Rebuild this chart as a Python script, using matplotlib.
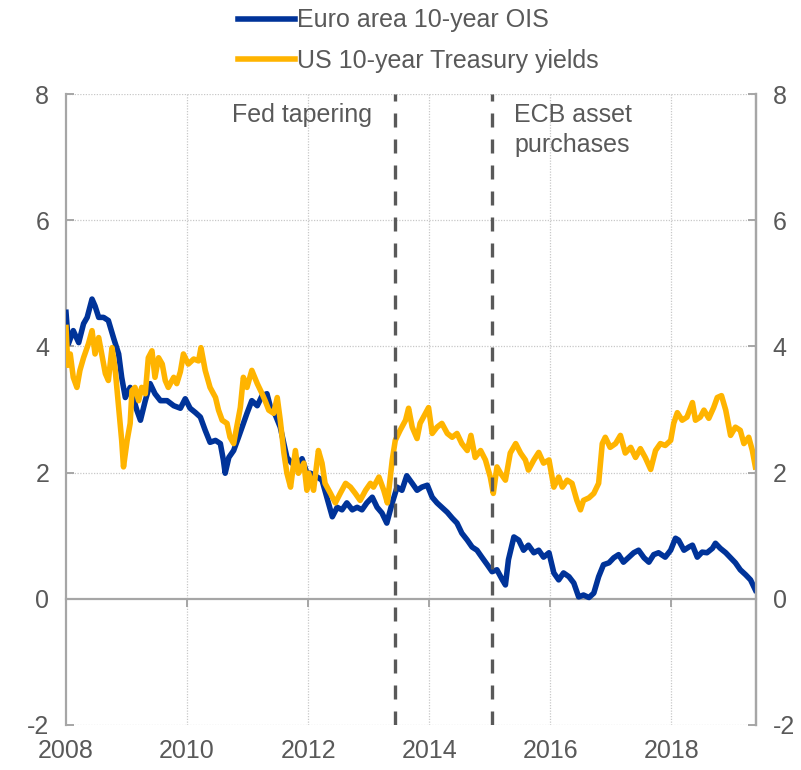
import matplotlib
matplotlib.use("Agg")
import matplotlib.pyplot as plt

# ---- data (decimal years, percent) -------------------------------------
euro_years = [
    2008.00, 2008.04, 2008.12, 2008.21, 2008.29, 2008.35, 2008.43, 2008.48, 2008.54, 2008.62,
    2008.70, 2008.79, 2008.87, 2008.92, 2008.98, 2009.06, 2009.17, 2009.23, 2009.31, 2009.39,
    2009.47, 2009.56, 2009.67, 2009.78, 2009.89, 2009.97, 2010.05, 2010.14, 2010.22, 2010.30,
    2010.38, 2010.47, 2010.55, 2010.60, 2010.63, 2010.69, 2010.77, 2010.85, 2010.93, 2010.99,
    2011.07, 2011.16, 2011.24, 2011.32, 2011.38, 2011.46, 2011.54, 2011.60, 2011.65, 2011.73,
    2011.82, 2011.90, 2011.98, 2012.04, 2012.15, 2012.23, 2012.31, 2012.40, 2012.48, 2012.56,
    2012.64, 2012.73, 2012.81, 2012.89, 2012.97, 2013.06, 2013.14, 2013.22, 2013.30, 2013.39,
    2013.47, 2013.55, 2013.63, 2013.72, 2013.80, 2013.88, 2013.97, 2014.05, 2014.13, 2014.21,
    2014.30, 2014.38, 2014.46, 2014.54, 2014.63, 2014.71, 2014.79, 2014.87, 2014.96, 2015.04,
    2015.12, 2015.21, 2015.26, 2015.31, 2015.40, 2015.48, 2015.56, 2015.64, 2015.73, 2015.81,
    2015.89, 2015.98, 2016.06, 2016.14, 2016.22, 2016.31, 2016.39, 2016.47, 2016.55, 2016.64,
    2016.72, 2016.80, 2016.88, 2016.97, 2017.05, 2017.13, 2017.21, 2017.30, 2017.38, 2017.46,
    2017.55, 2017.63, 2017.71, 2017.79, 2017.90, 2017.99, 2018.07, 2018.12, 2018.21, 2018.29,
    2018.35, 2018.43, 2018.51, 2018.59, 2018.68, 2018.73, 2018.81, 2018.90, 2018.98, 2019.06,
    2019.14, 2019.23, 2019.31, 2019.39,
]
euro_ois = [
    4.54, 4.04, 4.25, 4.06, 4.36, 4.46, 4.75, 4.64, 4.46, 4.46,
    4.41, 4.12, 3.88, 3.51, 3.19, 3.35, 2.99, 2.83, 3.14, 3.41,
    3.25, 3.14, 3.14, 3.06, 3.02, 3.17, 3.02, 2.95, 2.88, 2.67,
    2.48, 2.51, 2.46, 2.20, 1.99, 2.24, 2.35, 2.56, 2.78, 2.94,
    3.14, 3.06, 3.22, 3.25, 3.03, 2.91, 2.72, 2.46, 2.24, 2.15,
    2.12, 2.22, 1.99, 1.99, 1.93, 1.88, 1.61, 1.30, 1.45, 1.41,
    1.52, 1.41, 1.45, 1.41, 1.52, 1.61, 1.45, 1.36, 1.20, 1.52,
    1.77, 1.72, 1.95, 1.83, 1.72, 1.77, 1.80, 1.61, 1.52, 1.45,
    1.37, 1.28, 1.20, 1.04, 0.93, 0.82, 0.77, 0.66, 0.54, 0.43,
    0.46, 0.30, 0.22, 0.62, 0.98, 0.93, 0.77, 0.85, 0.73, 0.77,
    0.66, 0.73, 0.41, 0.30, 0.41, 0.35, 0.25, 0.03, 0.06, 0.02,
    0.09, 0.35, 0.54, 0.57, 0.65, 0.70, 0.58, 0.66, 0.73, 0.77,
    0.65, 0.58, 0.70, 0.73, 0.66, 0.77, 0.96, 0.93, 0.77, 0.82,
    0.85, 0.66, 0.74, 0.73, 0.80, 0.88, 0.80, 0.73, 0.65, 0.57,
    0.46, 0.38, 0.30, 0.14,
]

us_years = [
    2008.00, 2008.03, 2008.07, 2008.12, 2008.18, 2008.23, 2008.29, 2008.37, 2008.43, 2008.48,
    2008.54, 2008.59, 2008.65, 2008.70, 2008.76, 2008.81, 2008.87, 2008.92, 2008.95, 2009.01,
    2009.06, 2009.09, 2009.14, 2009.20, 2009.25, 2009.31, 2009.36, 2009.42, 2009.47, 2009.53,
    2009.59, 2009.64, 2009.69, 2009.78, 2009.83, 2009.89, 2009.94, 2010.02, 2010.11, 2010.19,
    2010.23, 2010.30, 2010.38, 2010.47, 2010.52, 2010.58, 2010.66, 2010.71, 2010.77, 2010.82,
    2010.88, 2010.93, 2010.99, 2011.07, 2011.16, 2011.24, 2011.29, 2011.35, 2011.43, 2011.49,
    2011.54, 2011.60, 2011.65, 2011.71, 2011.79, 2011.84, 2011.93, 2011.98, 2012.01, 2012.09,
    2012.17, 2012.23, 2012.28, 2012.37, 2012.45, 2012.53, 2012.62, 2012.70, 2012.78, 2012.86,
    2012.95, 2013.03, 2013.08, 2013.17, 2013.25, 2013.31, 2013.39, 2013.44, 2013.52, 2013.61,
    2013.66, 2013.72, 2013.80, 2013.85, 2013.94, 2013.99, 2014.05, 2014.13, 2014.21, 2014.30,
    2014.38, 2014.46, 2014.54, 2014.63, 2014.69, 2014.76, 2014.85, 2014.93, 2015.01, 2015.06,
    2015.12, 2015.18, 2015.26, 2015.34, 2015.43, 2015.51, 2015.59, 2015.64, 2015.73, 2015.81,
    2015.89, 2015.98, 2016.06, 2016.14, 2016.20, 2016.28, 2016.36, 2016.44, 2016.50, 2016.55,
    2016.64, 2016.72, 2016.80, 2016.86, 2016.91, 2016.99, 2017.08, 2017.16, 2017.24, 2017.33,
    2017.41, 2017.49, 2017.57, 2017.66, 2017.74, 2017.82, 2017.90, 2017.99, 2018.04, 2018.10,
    2018.18, 2018.26, 2018.35, 2018.40, 2018.48, 2018.54, 2018.62, 2018.70, 2018.76, 2018.83,
    2018.90, 2018.98, 2019.06, 2019.14, 2019.20, 2019.28, 2019.34, 2019.39,
]
us_yield = [
    4.30, 3.70, 3.88, 3.51, 3.35, 3.62, 3.82, 4.04, 4.25, 3.88,
    4.14, 3.88, 3.57, 3.46, 3.98, 3.66, 3.03, 2.51, 2.09, 2.51,
    2.78, 3.30, 3.35, 3.14, 3.35, 3.25, 3.82, 3.93, 3.51, 3.82,
    3.72, 3.46, 3.35, 3.51, 3.41, 3.60, 3.88, 3.72, 3.80, 3.77,
    3.98, 3.62, 3.35, 3.19, 2.99, 2.83, 2.78, 2.56, 2.46, 2.72,
    3.03, 3.51, 3.35, 3.62, 3.41, 3.25, 3.14, 2.99, 2.94, 3.19,
    2.83, 2.31, 1.99, 1.77, 2.35, 1.99, 2.15, 1.72, 1.99, 1.72,
    2.35, 2.15, 1.83, 1.67, 1.52, 1.67, 1.83, 1.77, 1.67, 1.56,
    1.72, 1.83, 1.77, 1.93, 1.72, 1.52, 2.20, 2.51, 2.67, 2.83,
    3.02, 2.72, 2.54, 2.78, 2.94, 3.03, 2.62, 2.72, 2.78, 2.62,
    2.56, 2.62, 2.46, 2.35, 2.59, 2.24, 2.35, 2.20, 1.93, 1.67,
    2.09, 1.99, 1.88, 2.31, 2.46, 2.31, 2.20, 2.04, 2.20, 2.32,
    2.15, 2.20, 1.77, 1.93, 1.77, 1.88, 1.83, 1.56, 1.41, 1.56,
    1.60, 1.67, 1.83, 2.46, 2.56, 2.40, 2.46, 2.59, 2.31, 2.40,
    2.24, 2.38, 2.24, 2.05, 2.35, 2.46, 2.43, 2.51, 2.78, 2.95,
    2.83, 2.88, 3.11, 2.83, 2.88, 2.99, 2.86, 3.03, 3.19, 3.22,
    2.99, 2.59, 2.72, 2.67, 2.46, 2.56, 2.35, 2.09,
]

event_years = [2013.44, 2015.03]
event_labels = ["Fed tapering", "ECB asset\npurchases"]
year_ticks = [2008, 2010, 2012, 2014, 2016, 2018]
value_ticks = [-2, 0, 2, 4, 6, 8]

BLUE = "#003399"
YELLOW = "#FFB400"
TXT = "#595959"
AXIS = "#A6A6A6"
GRID = "#C8C8C8"

plt.rcParams["font.family"] = ["Liberation Sans", "DejaVu Sans"]
plt.rcParams["font.size"] = 18
plt.rcParams["axes.unicode_minus"] = False

fig = plt.figure(figsize=(8.01, 7.70), dpi=100)
ax = fig.add_axes([66 / 801, 1 - 725 / 770, 690 / 801, 631 / 770])

ax.plot(euro_years, euro_ois, color=BLUE, lw=4.0, solid_joinstyle="round",
        label="Euro area 10-year OIS", zorder=3)
ax.plot(us_years, us_yield, color=YELLOW, lw=4.0, solid_joinstyle="round",
        label="US 10-year Treasury yields", zorder=3.1)

for yr in event_years:
    ax.axvline(yr, color="#595959", lw=2.4, linestyle=(0, (4.2, 3.6)), zorder=4)

ax.text(event_years[0] - 0.38, 7.86, event_labels[0], ha="right", va="top", color=TXT)
ax.text(event_years[1] + 0.38, 7.86, event_labels[1], ha="left", va="top", color=TXT,
        linespacing=1.3)

ax.set_xlim(2008, 2019.40)
ax.set_ylim(-2, 8)
ax.set_xticks(year_ticks)
ax.set_yticks(value_ticks)

# dotted grid (zero line is drawn as the x spine instead)
for yr in year_ticks[1:]:
    ax.axvline(yr, color=GRID, lw=0.9, linestyle=(0, (1, 1.2)), zorder=1)
for v in value_ticks:
    if v != 0:
        ax.axhline(v, color=GRID, lw=0.9, linestyle=(0, (1, 1.2)), zorder=1)

ax.spines["top"].set_visible(False)
ax.spines["bottom"].set_position(("data", 0))
for side in ["bottom", "left", "right"]:
    ax.spines[side].set_color(AXIS)
    ax.spines[side].set_linewidth(1.6)

ax.tick_params(axis="x", direction="out", length=6, width=1.4, color=AXIS,
               labelbottom=False)
ax.tick_params(axis="y", direction="in", length=6, width=1.4, color=AXIS,
               labelcolor=TXT, pad=12)

sec = ax.secondary_xaxis("bottom")
sec.set_xticks(year_ticks)
sec.spines["bottom"].set_visible(False)
sec.tick_params(length=0, labelcolor=TXT, pad=10)

ax2 = ax.twinx()
ax2.set_ylim(-2, 8)
ax2.set_yticks(value_ticks)
for side in ["top", "bottom", "left"]:
    ax2.spines[side].set_visible(False)
ax2.spines["right"].set_color(AXIS)
ax2.spines["right"].set_linewidth(1.6)
ax2.tick_params(axis="y", direction="in", length=6, width=1.4, color=AXIS,
                labelcolor=TXT, pad=12)

handles, labels = ax.get_legend_handles_labels()
fig.legend(handles, labels, loc="upper center", bbox_to_anchor=(418 / 801, 1.012),
           frameon=False, fontsize=18, handlelength=2.3, handletextpad=0.05,
           labelspacing=0.65, borderpad=0.2, labelcolor=TXT)

fig.savefig("out.png", dpi=100)
